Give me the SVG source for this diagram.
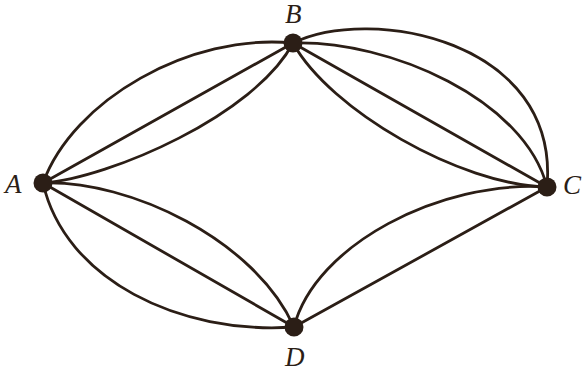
<svg xmlns="http://www.w3.org/2000/svg" width="582" height="374" viewBox="0 0 582 374">
<style>
.e{fill:none;stroke:#2b1e16;stroke-width:2.8;stroke-linecap:round}
.n{fill:#2b1e16}
.l{font-family:"Liberation Serif","Times New Roman",serif;font-style:italic;font-size:27px;fill:#2b1e16}
</style>
<rect width="582" height="374" fill="#ffffff"/>
<g id="connectors">
<path class="e" d="M43,183 C73,100 190,33 293,43"/>
<path class="e" d="M43,183 L293,43"/>
<path class="e" d="M43,183 C110,178 255,115 293,43"/>
<path class="e" d="M43,183 C65,280 180,335 294,327"/>
<path class="e" d="M43,183 L294,327"/>
<path class="e" d="M43,183 C130,180 255,240 294,327"/>
<path class="e" d="M293,43 C370,5 560,40 547,187"/>
<path class="e" d="M293,43 C390,40 525,100 547,187"/>
<path class="e" d="M293,43 L547,187"/>
<path class="e" d="M293,43 C330,110 460,185 547,187"/>
<path class="e" d="M294,327 C315,245 440,180 547,187"/>
<path class="e" d="M294,327 L547,187"/>
</g>
<g id="A"><circle class="n" cx="43" cy="183" r="9.5"/><text class="l" x="5" y="193">A</text></g>
<g id="B"><circle class="n" cx="293" cy="43" r="9.5"/><text class="l" x="285" y="23">B</text></g>
<g id="C"><circle class="n" cx="547" cy="187" r="9.5"/><text class="l" x="563" y="194">C</text></g>
<g id="D"><circle class="n" cx="294" cy="327" r="9.5"/><text class="l" x="285" y="366">D</text></g>
</svg>
